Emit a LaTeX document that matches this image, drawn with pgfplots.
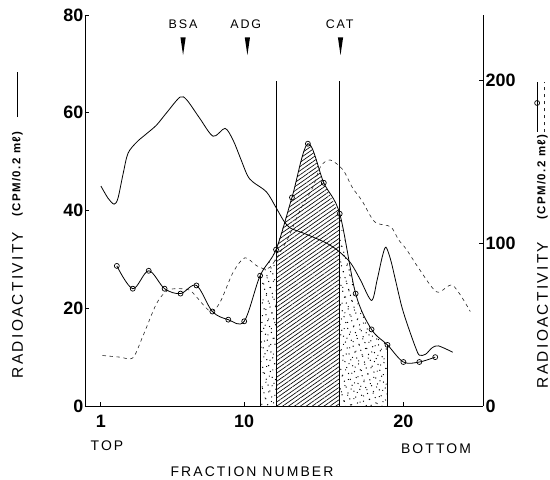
\documentclass[border=0pt]{standalone}
\usepackage{pgfplots}
\pgfplotsset{compat=1.18}
\usetikzlibrary{patterns.meta}
\usepackage{fontspec}
\setmainfont{Liberation Sans}
\newfontfamily\spaced[LetterSpace=15]{Liberation Sans}
\newfontfamily\spacedb[LetterSpace=12]{Liberation Sans Bold}
\newcommand{\tickfont}{\fontsize{18}{20}\selectfont\bfseries}
\newcommand{\lab}{\spaced\fontsize{14}{16}\selectfont}
\newcommand{\radio}{\spaced\fontsize{15.5}{17}\selectfont}
\newcommand{\arrowlab}{\spaced\fontsize{12.5}{14}\selectfont}
\newcommand{\paren}{\spacedb\fontsize{11.5}{13}\selectfont}

% total counts (left scale)
\pgfplotstableread{
x y
1.0 45.0
1.45 42.5
1.83 41.3
2.07 42.5
2.4 47.6
2.7 51.7
3.25 54.0
3.9 55.8
4.5 57.5
5.15 60.1
5.97 63.2
6.4 62.6
7.2 58.9
8.05 55.2
8.8 56.8
9.3 54.4
9.74 50.9
10.2 47.2
10.56 45.8
11.4 43.8
12.0 40.6
12.5 37.8
12.9 36.4
13.7 35.4
14.8 33.9
15.4 32.9
16.0 31.5
16.7 29.2
17.3 25.8
18.0 21.6
18.35 25.8
18.67 30.5
18.9 32.5
19.2 29.9
19.5 25.8
19.9 20.3
20.3 16.2
20.75 12.1
21.0 10.4
21.4 10.6
21.8 11.9
22.2 12.3
23.1 11.0
}\totalcounts

% second label (right scale, dashed)
\pgfplotstableread{
x y
1.1 31
2.2 30
3.0 29.5
3.6 42
4.5 63
5.2 71
6.0 72
6.6 71
7.0 67
7.9 58
8.5 64
9.3 82
10.05 91
10.8 86
11.6 85
12.7 102
13.5 120
14.3 134
14.8 147
15.4 151
16.2 145
16.8 134
17.4 126
18.2 113
19.2 110
19.7 102
20.2 96
21.0 84
22.1 70
23.1 74
24.2 58
}\dashedcounts

% fraction counts (right scale, open circles)
\pgfplotstableread{
x y
2 86
3 72
4 83
5 72
6 69
7 74
8 58
9 53
10 52
11 80
12 96
13 128
14 161
15 137
16 118
17 69
18 47
19 37.5
20 27
21 27
22 30
}\fractions

% pooled fractions
\pgfplotstableread{
x y
11 80
12 96
}\poolA
\pgfplotstableread{
x y
12 96
13 128
14 161
15 137
16 118
}\poolB
\pgfplotstableread{
x y
16 118
17 69
18 47
19 37.5
}\poolC

\pgfplotsset{
  base/.style={
    scale only axis, width=398bp, height=391bp,
    xmin=0, xmax=25, clip=false,
    axis line style={-, line width=1pt},
    tick align=inside, major tick length=4.5pt,
    tick style={line width=0.9pt, black},
    ticklabel style={font=\tickfont, inner sep=1.5pt},
    /pgf/number format/assume math mode=true,
  },
  dashcurve/.style={line width=0.6pt, black!85, dash pattern=on 3.5bp off 3.5bp},
  circcurve/.style={line width=0.8pt, black, mark=o, mark size=2.5pt,
    mark options={fill=white, solid, line width=0.7pt}},
  dotsA/.style={draw=none, pattern={Dots[radius=0.7pt, distance=6.2pt, angle=17]}},
  dotsB/.style={draw=none, pattern={Dots[radius=0.65pt, distance=7.1pt, angle=61, xshift=2.2pt, yshift=1.3pt]}},
  hatch/.style={draw=none, pattern={Lines[angle=35, distance=3.4pt, line width=0.65pt]}},
}

\newcommand{\marker}[3]{%
  \fill ([xshift=-2.6bp]axis cs:#1,75.4) -- ([xshift=2.6bp]axis cs:#1,75.4)
    -- (axis cs:#1,71.8) -- cycle;
  \node[font=\arrowlab] at (axis cs:#2,78.2) {#3};
}

\begin{document}
\begin{tikzpicture}
\path[use as bounding box] (-85bp,-74bp) rectangle (465bp,406bp);

\begin{axis}[base, ymin=0, ymax=80,
  axis x line*=bottom, axis y line*=left,
  xtick={1,10,20}, ytick={0,20,40,60,80},
  xticklabel style={yshift=-7bp}]
  \addplot[smooth, line width=0.8pt, black] table {\totalcounts};
  % fraction boundaries of the peak pool
  \addplot[line width=0.7pt] coordinates {(12,0) (12,66.5)};
  \addplot[line width=0.7pt] coordinates {(16,0) (16,66.5)};
  % key for the left scale
  \addplot[line width=0.8pt] coordinates {(-4.25,59.1) (-4.25,68.3)};
  % solid stroke of the key for the right scale
  \addplot[line width=0.8pt] coordinates {(28.4,56.1) (28.4,66.3)};
  % marker proteins
  \marker{6.16}{6.16}{BSA}
  \marker{10.2}{10.1}{ADG}
  \marker{16.05}{16.0}{CAT}
\end{axis}

\begin{axis}[base, ymin=0, ymax=240,
  hide x axis, axis y line*=right, ytick={0,100,200},
  yticklabel style={xshift=1bp}]
  % stippled and hatched pools
  \addplot[dotsA, smooth] table {\poolA} \closedcycle;
  \addplot[dotsB, smooth] table {\poolA} \closedcycle;
  \addplot[hatch, smooth, tension=0.55] table {\poolB} \closedcycle;
  \addplot[dotsA, smooth, tension=0.55] table {\poolC} \closedcycle;
  \addplot[dotsB, smooth, tension=0.55] table {\poolC} \closedcycle;
  \addplot[line width=0.7pt] coordinates {(11,0) (11,80)};
  \addplot[line width=0.7pt] coordinates {(19,0) (19,37.5)};

  \addplot[dashcurve, smooth] table {\dashedcounts};
  \addplot[circcurve, smooth, tension=0.55] table {\fractions};

  % key for the right scale
  \addplot[circcurve, only marks] coordinates {(28.4,186)};
  \addplot[dashcurve] coordinates {(28.85,168) (28.85,199)};
\end{axis}

\node[rotate=90, font=\radio] at (-67.5bp,101bp) {RADIOACTIVITY};
\node[rotate=90, font=\paren] at (-67.5bp,232bp) {(CPM/0.\,2 mℓ)};
\node[rotate=90, font=\radio] at (457.5bp,91bp) {RADIOACTIVITY};
\node[rotate=90, font=\paren] at (457.5bp,229bp) {(CPM/0.\,2 mℓ)};
\node[font=\lab] at (22bp,-40bp) {TOP};
\node[font=\lab] at (351bp,-43bp) {BOTTOM};
\node[font=\lab] at (167bp,-66bp) {FRACTION NUMBER};
\end{tikzpicture}
\end{document}
